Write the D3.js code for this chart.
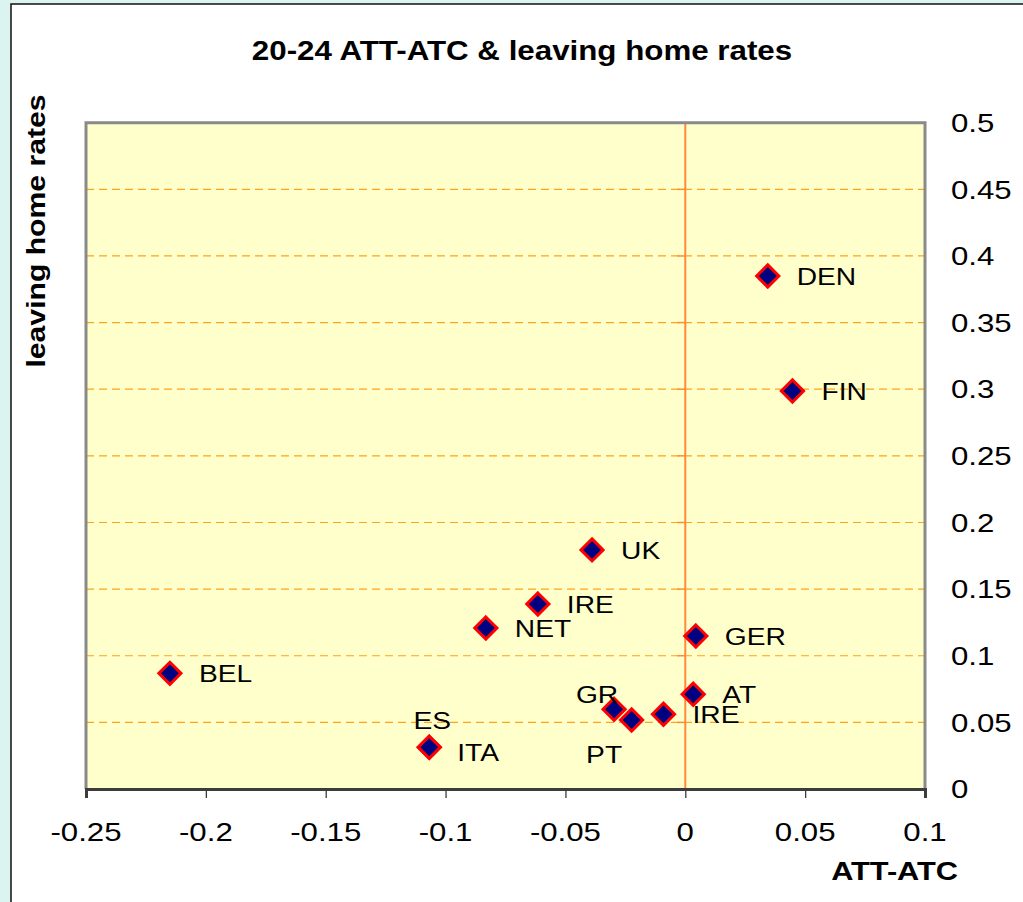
<!DOCTYPE html>
<html>
<head>
<meta charset="utf-8">
<script src="https://cdn.jsdelivr.net/npm/d3@7"></script>
<style>
  html, body { margin: 0; padding: 0; background: #dcf4ef; }
  svg { display: block; }
  text { font-family: "Liberation Sans", Arial, sans-serif; fill: #000; }
</style>
</head>
<body>
<svg id="chart" width="1023" height="902"></svg>
<script>
// Countries, ATT-ATC (x) and leaving home rates (y), ages 20-24
const countries = ["DEN", "FIN", "UK", "IRE", "NET", "BEL", "GER", "AT", "IRE", "GR", "PT", "ES", "ITA"];
const attAtc    = [0.0344, 0.0447, -0.0389, -0.0615, -0.0832, -0.215, 0.0044, 0.0033, -0.0091, -0.0297, -0.0224, -0.1068, -0.1068];
const leaving   = [0.385, 0.2987, 0.1794, 0.1388, 0.1208, 0.0868, 0.1148, 0.0711, 0.0561, 0.0598, 0.0518, 0.0313, 0.0313];

// Label placement relative to each marker
const labelPlacement = ["right", "right", "right", "right", "right", "right", "right", "right", "right", "upleft", "downleft", "above", "rightlow"];

const xTicks = [-0.25, -0.2, -0.15, -0.1, -0.05, 0, 0.05, 0.1];
const yTicks = [0, 0.05, 0.1, 0.15, 0.2, 0.25, 0.3, 0.35, 0.4, 0.45, 0.5];

const titleText = "20-24 ATT-ATC & leaving home rates";
const xTitle = "ATT-ATC";
const yTitle = "leaving home rates";

const W = 1023, H = 902;
const plot = { left: 86, right: 925, top: 122.7, bottom: 789 };
const SX = 1.16; // horizontal text stretch

const svg = d3.select("#chart");

// chart area
svg.append("rect").attr("x", 11).attr("y", 4).attr("width", W).attr("height", H)
  .attr("fill", "#ffffff").attr("stroke", "#1e1e1e").attr("stroke-width", 1.6);

const x = d3.scaleLinear().domain([-0.25, 0.1]).range([plot.left, plot.right]);
const y = d3.scaleLinear().domain([0, 0.5]).range([plot.bottom, plot.top]);

function label(parent, str, px, py, opts = {}) {
  const g = parent.append("g")
    .attr("transform", `translate(${px},${py})` + (opts.rotate ? ` rotate(${opts.rotate})` : "") + ` scale(${opts.sx || SX},1)`);
  return g.append("text")
    .attr("x", 0).attr("y", 0)
    .attr("text-anchor", opts.anchor || "start")
    .style("font-size", (opts.size || 24) + "px")
    .style("font-weight", opts.bold ? "bold" : "normal")
    .text(str);
}

// plot background
svg.append("rect")
  .attr("x", plot.left).attr("y", plot.top)
  .attr("width", plot.right - plot.left).attr("height", plot.bottom - plot.top)
  .attr("fill", "#ffffcc");

// dashed horizontal gridlines
svg.append("g").selectAll("line")
  .data(yTicks.filter(v => v > 0 && v < 0.5))
  .join("line")
  .attr("x1", plot.left).attr("x2", plot.right)
  .attr("y1", d => y(d)).attr("y2", d => y(d))
  .attr("stroke", "#ffa31a").attr("stroke-width", 1.2)
  .attr("stroke-dasharray", "8,5");

// vertical axis through zero, with its tick marks
svg.append("line")
  .attr("x1", x(0)).attr("x2", x(0))
  .attr("y1", plot.top).attr("y2", plot.bottom)
  .attr("stroke", "#ff8a3d").attr("stroke-width", 2);
svg.append("g").selectAll("line")
  .data(yTicks)
  .join("line")
  .attr("x1", x(0) - 8).attr("x2", x(0))
  .attr("y1", d => y(d)).attr("y2", d => y(d))
  .attr("stroke", "#ff8a3d").attr("stroke-width", 1.5);

// plot frame (top, left, right)
svg.append("path")
  .attr("d", `M${plot.left},${plot.bottom} V${plot.top} H${plot.right} V${plot.bottom}`)
  .attr("fill", "none").attr("stroke", "#8a8a8a").attr("stroke-width", 3);

// bottom axis
const xAxis = d3.axisBottom(x).tickValues(xTicks).tickSize(9).tickFormat("");
const gx = svg.append("g").attr("transform", `translate(0,${plot.bottom})`).call(xAxis);
gx.select(".domain").attr("stroke", "#3c3c3c").attr("stroke-width", 3);
gx.selectAll(".tick line").attr("stroke", "#3c3c3c").attr("stroke-width", 1.3);

// x tick labels
xTicks.forEach(v => label(svg, String(v), x(v), 841, { anchor: "middle", size: 26, sx: 1.2 }));
// y tick labels on the right
yTicks.forEach(v => label(svg, String(v), 951, y(v) + 9.2, { size: 26, sx: 1.2 }));

// markers
const diamond = d3.symbol().type(d3.symbolDiamond2).size(2 * 12.5 * 12.5);
const pts = countries.map((c, i) => ({ c, x: attAtc[i], y: leaving[i], pos: labelPlacement[i] }));
svg.append("g").selectAll("path")
  .data(pts)
  .join("path")
  .attr("d", diamond)
  .attr("transform", d => `translate(${x(d.x)},${y(d.y)})`)
  .attr("fill", "#000080").attr("stroke", "#ff0000").attr("stroke-width", 3);

// data labels
const gl = svg.append("g");
pts.forEach(d => {
  const px = x(d.x), py = y(d.y);
  const o = { sx: 1.15, size: 24.5 };
  if (d.pos === "right") label(gl, d.c, px + 29, py + 8.7, o);
  else if (d.pos === "rightlow") label(gl, d.c, px + 28, py + 13.5, o);
  else if (d.pos === "above") label(gl, d.c, px + 3, py - 18, { ...o, anchor: "middle" });
  else if (d.pos === "upleft") label(gl, d.c, px - 17, py - 6.6, { ...o, anchor: "middle" });
  else if (d.pos === "downleft") label(gl, d.c, px - 27.5, py + 42.7, { ...o, anchor: "middle" });
});

// titles
label(svg, titleText, 522, 60, { anchor: "middle", bold: true, size: 27 });
label(svg, xTitle, 958, 880, { anchor: "end", bold: true, size: 26.5 });
label(svg, yTitle, 44.5, 231, { anchor: "middle", bold: true, size: 26, rotate: -90 });
</script>
</body>
</html>
